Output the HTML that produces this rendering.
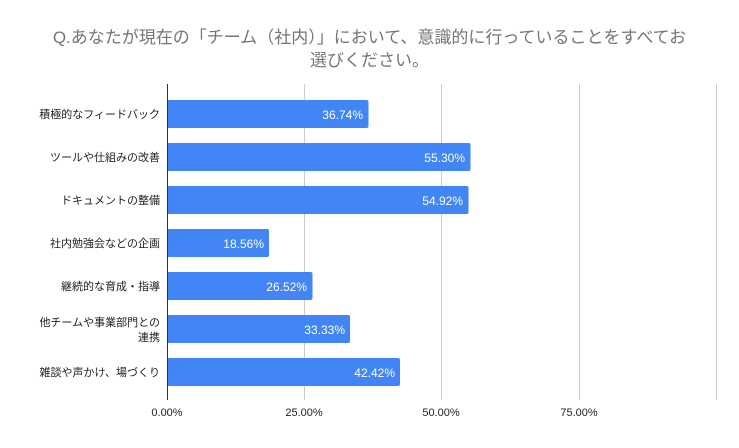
<!DOCTYPE html><html><head><meta charset="utf-8"><style>body{margin:0;background:#fff}</style></head><body>
<svg width="739" height="443" xmlns="http://www.w3.org/2000/svg" font-family="Liberation Sans, Noto Sans CJK JP, sans-serif">
<rect width="739" height="443" fill="#fff"/>
<text x="369.5" y="43" text-anchor="middle" font-size="17" fill="#757575">Q.あなたが現在の「チーム（社内）」において、意識的に行っていることをすべてお</text>
<text x="369.5" y="66" text-anchor="middle" font-size="17" fill="#757575">選びください。</text>
<g stroke="#cccccc" stroke-width="1">
<line x1="304.5" y1="84" x2="304.5" y2="400"/><line x1="441.5" y1="84" x2="441.5" y2="400"/><line x1="579.5" y1="84" x2="579.5" y2="400"/><line x1="716.5" y1="84" x2="716.5" y2="400"/></g>
<g fill="#4285f4">
<rect x="167" y="100" width="201.5" height="28" rx="2"/>
<rect x="167" y="143" width="303.5" height="28" rx="2"/>
<rect x="167" y="186" width="301.5" height="28" rx="2"/>
<rect x="167" y="229" width="102" height="28" rx="2"/>
<rect x="167" y="272" width="145.5" height="28" rx="2"/>
<rect x="167" y="315" width="183" height="28" rx="2"/>
<rect x="167" y="358" width="233" height="28" rx="2"/></g>
<line x1="167.5" y1="84" x2="167.5" y2="400" stroke="#333" stroke-width="1"/>
<g font-size="12" fill="#fff" text-anchor="end">
<text x="363" y="119">36.74%</text><text x="465" y="162">55.30%</text><text x="463" y="205">54.92%</text><text x="264" y="248">18.56%</text><text x="307" y="291">26.52%</text><text x="345" y="334">33.33%</text><text x="395" y="377">42.42%</text></g>
<g font-size="11" fill="#222" text-anchor="end">
<text x="160" y="118">積極的なフィードバック</text><text x="160" y="161">ツールや仕組みの改善</text><text x="160" y="204">ドキュメントの整備</text><text x="160" y="247">社内勉強会などの企画</text><text x="160" y="290">継続的な育成・指導</text><text x="160" y="326">他チームや事業部門との</text><text x="160" y="341">連携</text><text x="160" y="376">雑談や声かけ、場づくり</text></g>
<g font-size="11" fill="#222" text-anchor="middle">
<text x="167" y="416">0.00%</text><text x="304" y="416">25.00%</text><text x="441" y="416">50.00%</text><text x="579" y="416">75.00%</text></g>
</svg></body></html>
